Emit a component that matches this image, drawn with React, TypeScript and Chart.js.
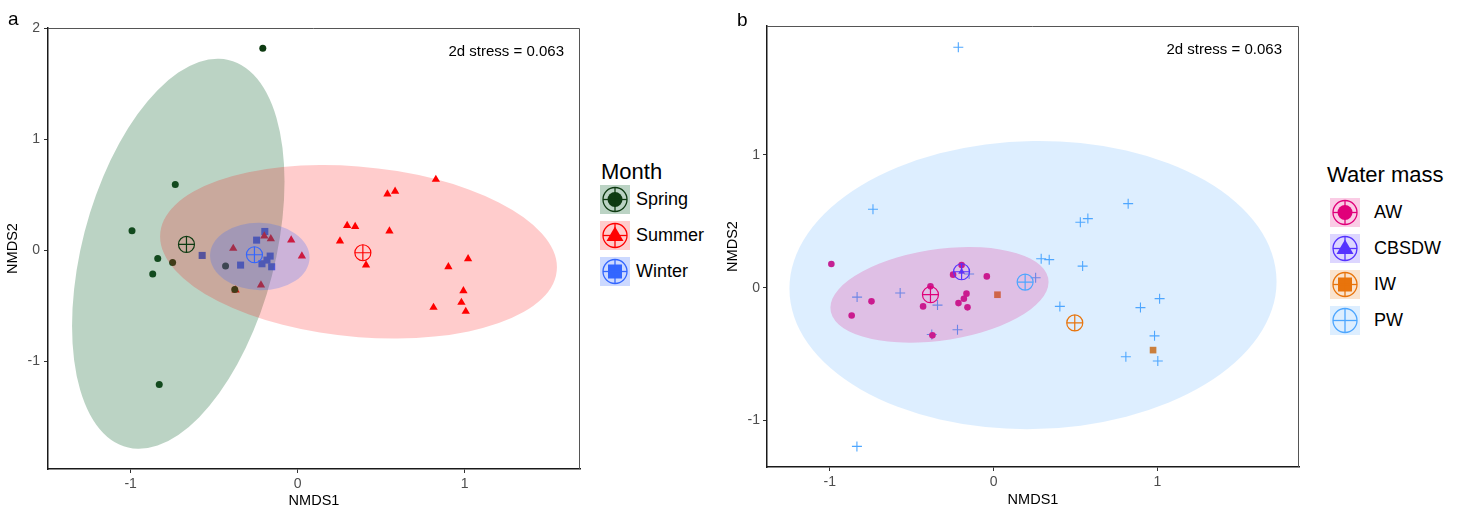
import React, { useEffect, useRef } from "react";
import { Chart, registerables } from "chart.js";

Chart.register(...registerables);

const FONT = "'Liberation Sans', Arial, Helvetica, sans-serif";
const STRESS_LABEL = "2d stress = 0.063";
const X_TITLE = "NMDS1";
const Y_TITLE = "NMDS2";

// ---------------- Panel a : Month ----------------
const MONTH_TITLE = "Month";
const MONTH_LABELS = ["Spring", "Summer", "Winter"];
const SPRING_X = [-0.209, -0.733, -0.992, -0.838, -0.868, -0.749, -0.432, -0.377, -0.829];
const SPRING_Y = [1.822, 0.595, 0.177, -0.072, -0.213, -0.108, -0.141, -0.352, -1.208];
const SUMMER_X = [0.827, 0.537, 0.583, 0.296, 0.344, 0.549, 0.253, 0.409, 1.02, 0.902, 0.992, 0.98, 0.813, 1.006, -0.386, -0.2, -0.161, -0.039, 0.025, -0.22, -0.372];
const SUMMER_Y = [0.64, 0.508, 0.532, 0.225, 0.216, 0.174, 0.084, -0.132, -0.075, -0.147, -0.364, -0.469, -0.514, -0.55, 0.018, 0.129, 0.105, 0.093, -0.051, -0.313, -0.358];
const WINTER_X = [-0.572, -0.342, -0.246, -0.197, -0.165, -0.214, -0.184, -0.156];
const WINTER_Y = [-0.045, -0.132, 0.093, 0.171, -0.051, -0.12, -0.087, -0.147];
const MONTH_CENTROID_X = [-0.666, 0.39, -0.259];
const MONTH_CENTROID_Y = [0.054, -0.021, -0.039];
// ellipses: centre, half extent in x, half extent in y, correlation
const MONTH_ELLIPSE_CX = [-0.715, 0.364, -0.227];
const MONTH_ELLIPSE_CY = [-0.03, -0.0125, -0.055];
const MONTH_ELLIPSE_SX = [0.636, 1.188, 0.298];
const MONTH_ELLIPSE_SY = [1.758, 0.782, 0.304];
const MONTH_ELLIPSE_R = [0.37, -0.178, -0.03];
const A_X_TICKS = [-1, 0, 1];
const A_Y_TICKS = [-1, 0, 1, 2];

// ---------------- Panel b : Water mass ----------------
const WATER_TITLE = "Water mass";
const WATER_LABELS = ["AW", "CBSDW", "IW", "PW"];
const AW_X = [-0.99, -0.745, -0.866, -0.385, -0.43, -0.195, -0.247, -0.041, -0.165, -0.181, -0.214, -0.159, -0.373];
const AW_Y = [0.178, -0.103, -0.209, 0.01, -0.141, 0.17, 0.098, 0.085, -0.045, -0.083, -0.116, -0.148, -0.359];
const CBSDW_X = [-0.195];
const CBSDW_Y = [0.12];
const IW_X = [0.024, 0.974];
const IW_Y = [-0.053, -0.47];
const PW_X = [-0.215, -0.736, 0.822, 0.53, 0.576, 0.291, 0.34, 0.544, 0.257, -0.833, -0.57, -0.342, 0.405, 0.897, 1.014, 0.983, 0.808, 1.003, -0.22, -0.377, -0.834, -0.149];
const PW_Y = [1.81, 0.59, 0.6325, 0.4925, 0.52, 0.218, 0.211, 0.1625, 0.075, -0.071, -0.04, -0.131, -0.141, -0.15, -0.0825, -0.3625, -0.52, -0.5525, -0.317, -0.352, -1.195, 0.103];
const WATER_CENTROID_X = [-0.385, -0.195, 0.496, 0.193];
const WATER_CENTROID_Y = [-0.053, 0.12, -0.265, 0.042];
// ellipses drawn for PW then AW
const WATER_ELLIPSE_CX = [0.241, -0.33];
const WATER_ELLIPSE_CY = [0.02, -0.054];
const WATER_ELLIPSE_SX = [1.487, 0.666];
const WATER_ELLIPSE_SY = [1.085, 0.36];
const WATER_ELLIPSE_R = [0.025, 0.27];
const B_X_TICKS = [-1, 0, 1];
const B_Y_TICKS = [-1, 0, 1];

// ---------------- styles ----------------
const MONTH_STYLE = [
  { color: "#0E3B12", shape: "circle", r: 3.5, fill: "rgba(30,110,60,0.3)" },
  { color: "#FF0000", shape: "triangle", r: 4.8, fill: "rgba(255,0,0,0.2)" },
  { color: "#3366FF", shape: "rect", r: 5, fill: "rgba(51,102,255,0.25)" },
];
const WATER_STYLE = [
  { color: "#E0007A", shape: "circle", r: 3.3, fill: "rgba(228,0,124,0.2)" },
  { color: "#5533FF", shape: "triangle", r: 4, fill: "rgba(85,51,255,0.2)" },
  { color: "#E8740C", shape: "rect", r: 4.7, fill: "rgba(232,116,12,0.2)" },
  { color: "#4DA6FF", shape: "cross", r: 5, fill: "rgba(86,170,255,0.2)" },
];

type Group = { xs: number[]; ys: number[]; cx: number; cy: number; color: string; shape: string; r: number };
type Ell = { cx: number; cy: number; sx: number; sy: number; rho: number; fill: string };
type Spec = {
  left: number; width: number; height: number;
  xMin: number; xMax: number; yMin: number; yMax: number;
  xTicks: number[]; yTicks: number[];
  groups: Group[]; ellipses: Ell[];
  padTop: number; padRight: number; yAxisWidth: number; xAxisHeight: number;
  yTitlePad: number; xTitlePad: number; yTickPad: number; xTickPad: number;
  stressDx: number; stressDy: number;
};

const monthPts = [[SPRING_X, SPRING_Y], [SUMMER_X, SUMMER_Y], [WINTER_X, WINTER_Y]];
const waterPts = [[AW_X, AW_Y], [CBSDW_X, CBSDW_Y], [IW_X, IW_Y], [PW_X, PW_Y]];

const A_SPEC: Spec = {
  left: 0, width: 590, height: 510,
  xMin: -1.495, xMax: 1.69, yMin: -1.97, yMax: 2.005,
  xTicks: A_X_TICKS, yTicks: A_Y_TICKS,
  groups: MONTH_LABELS.map((_, i) => ({
    xs: monthPts[i][0], ys: monthPts[i][1], cx: MONTH_CENTROID_X[i], cy: MONTH_CENTROID_Y[i],
    color: MONTH_STYLE[i].color, shape: MONTH_STYLE[i].shape, r: MONTH_STYLE[i].r,
  })),
  ellipses: MONTH_ELLIPSE_CX.map((cx, i) => ({
    cx, cy: MONTH_ELLIPSE_CY[i], sx: MONTH_ELLIPSE_SX[i], sy: MONTH_ELLIPSE_SY[i], rho: MONTH_ELLIPSE_R[i], fill: MONTH_STYLE[i].fill,
  })),
  padTop: 28, padRight: 10, yAxisWidth: 48, xAxisHeight: 41,
  yTitlePad: 4, xTitlePad: 0, yTickPad: 4, xTickPad: 3,
  stressDx: 16, stressDy: 24,
};

const WATER_ELL_STYLE = [WATER_STYLE[3], WATER_STYLE[0]];
const B_SPEC: Spec = {
  left: 720, width: 590, height: 510,
  xMin: -1.383, xMax: 1.865, yMin: -1.35, yMax: 1.97,
  xTicks: B_X_TICKS, yTicks: B_Y_TICKS,
  groups: WATER_LABELS.map((_, i) => ({
    xs: waterPts[i][0], ys: waterPts[i][1], cx: WATER_CENTROID_X[i], cy: WATER_CENTROID_Y[i],
    color: WATER_STYLE[i].color, shape: WATER_STYLE[i].shape, r: WATER_STYLE[i].r,
  })),
  ellipses: WATER_ELLIPSE_CX.map((cx, i) => ({
    cx, cy: WATER_ELLIPSE_CY[i], sx: WATER_ELLIPSE_SX[i], sy: WATER_ELLIPSE_SY[i], rho: WATER_ELLIPSE_R[i], fill: WATER_ELL_STYLE[i].fill,
  })),
  padTop: 26, padRight: 11, yAxisWidth: 47, xAxisHeight: 43,
  yTitlePad: 4, xTitlePad: 1, yTickPad: 3, xTickPad: 3,
  stressDx: 17, stressDy: 24,
};

function drawEllipse(chart: any, e: Ell) {
  const { ctx, chartArea, scales } = chart;
  const xs = scales.x, ys = scales.y;
  const px = xs.getPixelForValue(e.cx), py = ys.getPixelForValue(e.cy);
  const kx = xs.getPixelForValue(e.cx + 1) - px;
  const ky = ys.getPixelForValue(e.cy + 1) - py;
  const l11 = e.sx, l21 = e.rho * e.sy, l22 = e.sy * Math.sqrt(1 - e.rho * e.rho);
  ctx.save();
  ctx.beginPath();
  ctx.rect(chartArea.left, chartArea.top, chartArea.right - chartArea.left, chartArea.bottom - chartArea.top);
  ctx.clip();
  ctx.translate(px, py);
  ctx.transform(kx * l11, ky * l21, 0, ky * l22, 0, 0);
  ctx.beginPath();
  ctx.arc(0, 0, 1, 0, Math.PI * 2);
  ctx.fillStyle = e.fill;
  ctx.fill();
  ctx.restore();
}

function ChartPanel({ spec }: { spec: Spec }) {
  const ref = useRef<HTMLCanvasElement>(null);
  useEffect(() => {
    const canvas = ref.current;
    if (!canvas) return;
    const datasets: any[] = [];
    spec.groups.forEach((g) => {
      datasets.push({ data: [{ x: g.cx, y: g.cy }], pointStyle: "circle", pointRadius: 8, backgroundColor: "rgba(0,0,0,0)", borderColor: g.color, borderWidth: 1.2 });
      datasets.push({ data: [{ x: g.cx, y: g.cy }], pointStyle: "cross", pointRadius: 8, borderColor: g.color, borderWidth: 1.2 });
    });
    const firstPoint = datasets.length;
    spec.groups.forEach((g) => {
      datasets.push({
        data: g.xs.map((x, i) => ({ x, y: g.ys[i] })),
        pointStyle: g.shape, pointRadius: g.r,
        backgroundColor: g.color, borderColor: g.color,
        borderWidth: g.shape === "cross" ? 1.1 : 0,
      });
    });
    const extras = {
      id: "panelExtras",
      afterDatasetDraw(chart: any, args: any) {
        if (args.index === firstPoint) spec.ellipses.forEach((e) => drawEllipse(chart, e));
      },
      afterDraw(chart: any) {
        const { ctx, chartArea } = chart;
        ctx.save();
        ctx.strokeStyle = "#555";
        ctx.lineWidth = 1;
        ctx.beginPath();
        ctx.moveTo(chartArea.left, chartArea.top + 0.5);
        ctx.lineTo(chartArea.right - 0.5, chartArea.top + 0.5);
        ctx.lineTo(chartArea.right - 0.5, chartArea.bottom);
        ctx.stroke();
        ctx.fillStyle = "#000";
        ctx.font = `15px ${FONT}`;
        ctx.textAlign = "right";
        ctx.textBaseline = "middle";
        ctx.fillText(STRESS_LABEL, chartArea.right - spec.stressDx, chartArea.top + spec.stressDy);
        ctx.restore();
      },
    };
    const axisCommon = {
      type: "linear",
      grid: { display: true, drawOnChartArea: false, drawTicks: true, tickLength: 4, color: "#333", lineWidth: 1 },
      border: { display: true, color: "#1a1a1a", width: 1.5 },
    };
    const chart = new Chart(canvas, {
      type: "scatter",
      data: { datasets },
      options: {
        responsive: false,
        animation: false,
        events: [],
        layout: { padding: { left: 0, top: spec.padTop, right: spec.padRight, bottom: 0 } },
        plugins: { legend: { display: false }, tooltip: { enabled: false } },
        scales: {
          x: {
            ...axisCommon,
            min: spec.xMin, max: spec.xMax,
            afterBuildTicks: (s: any) => { s.ticks = spec.xTicks.map((v) => ({ value: v })); },
            afterFit: (s: any) => { s.height = spec.xAxisHeight; },
            ticks: { color: "#4D4D4D", font: { family: FONT, size: 14 }, padding: spec.xTickPad, maxRotation: 0, autoSkip: false, callback: (v: any) => String(v) },
            title: { display: true, text: X_TITLE, color: "#000", font: { family: FONT, size: 14.5 }, padding: { top: 0, bottom: spec.xTitlePad } },
          },
          y: {
            ...axisCommon,
            min: spec.yMin, max: spec.yMax,
            afterBuildTicks: (s: any) => { s.ticks = spec.yTicks.map((v) => ({ value: v })); },
            afterFit: (s: any) => { s.width = spec.yAxisWidth; },
            ticks: { color: "#4D4D4D", font: { family: FONT, size: 14 }, padding: spec.yTickPad, autoSkip: false, callback: (v: any) => String(v) },
            title: { display: true, text: Y_TITLE, color: "#000", font: { family: FONT, size: 14.5 }, padding: { top: spec.yTitlePad, bottom: 0 } },
          },
        },
      } as any,
      plugins: [extras],
    } as any);
    return () => chart.destroy();
  }, [spec]);
  return (
    <canvas
      ref={ref}
      width={spec.width}
      height={spec.height}
      style={{ position: "absolute", left: spec.left, top: 0, width: spec.width, height: spec.height }}
    />
  );
}

function LegendKey({ shape, color, fill }: { shape: string; color: string; fill: string }) {
  return (
    <svg width={30} height={29} style={{ display: "block" }}>
      <rect x={0} y={0} width={30} height={29} fill={fill} />
      {shape === "circle" && <circle cx={15} cy={14.5} r={7.5} fill={color} />}
      {shape === "triangle" && <polygon points="15,5.5 23.5,20 6.5,20" fill={color} />}
      {shape === "rect" && <rect x={8} y={7.5} width={14} height={14} fill={color} />}
      <circle cx={15} cy={14.5} r={12} fill="none" stroke={color} strokeWidth={1.3} />
      <line x1={3} y1={14.5} x2={27} y2={14.5} stroke={color} strokeWidth={1.3} />
      <line x1={15} y1={2.5} x2={15} y2={26.5} stroke={color} strokeWidth={1.3} />
    </svg>
  );
}

function Legend({ title, labels, styles, titleLeft, titleCy, boxLeft, textLeft, firstCy, step }: any) {
  return (
    <>
      <div style={{ position: "absolute", left: titleLeft, top: titleCy - 15, height: 30, display: "flex", alignItems: "center", fontSize: 22, color: "#000", whiteSpace: "nowrap" }}>{title}</div>
      {labels.map((lab: string, i: number) => {
        const cy = firstCy + i * step;
        return (
          <React.Fragment key={lab}>
            <div style={{ position: "absolute", left: boxLeft, top: cy - 14.5 }}>
              <LegendKey shape={styles[i].shape} color={styles[i].color} fill={styles[i].fill} />
            </div>
            <div style={{ position: "absolute", left: textLeft, top: cy - 15, height: 30, display: "flex", alignItems: "center", fontSize: 18, color: "#000", whiteSpace: "nowrap" }}>{lab}</div>
          </React.Fragment>
        );
      })}
    </>
  );
}

export default function App() {
  return (
    <div style={{ position: "absolute", left: 0, top: 0, width: 1463, height: 510, background: "#fff", overflow: "hidden", fontFamily: FONT }}>
      <ChartPanel spec={A_SPEC} />
      <ChartPanel spec={B_SPEC} />
      <div style={{ position: "absolute", left: 8, top: 9, fontSize: 19, lineHeight: "19px", color: "#000" }}>a</div>
      <div style={{ position: "absolute", left: 737, top: 10, fontSize: 19, lineHeight: "19px", color: "#000" }}>b</div>
      <Legend title={MONTH_TITLE} labels={MONTH_LABELS} styles={MONTH_STYLE} titleLeft={601} titleCy={172} boxLeft={600} textLeft={636} firstCy={199} step={36} />
      <Legend title={WATER_TITLE} labels={WATER_LABELS} styles={WATER_STYLE} titleLeft={1327} titleCy={175} boxLeft={1330} textLeft={1374} firstCy={212} step={36.3} />
    </div>
  );
}
